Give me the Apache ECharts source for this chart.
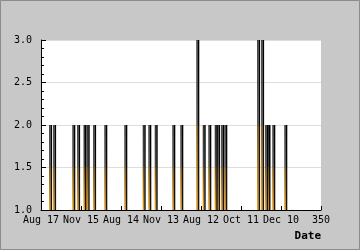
<!DOCTYPE html>
<html><head><meta charset="utf-8">
<script src="https://cdn.jsdelivr.net/npm/echarts@6/dist/echarts.min.js"></script>
<style>html,body{margin:0;padding:0;background:#c8c8c8}#c{width:360px;height:250px}</style>
</head><body><div id="c"></div>
<script>
// day index of each visit day with more than one visit
var dayIndex = [12,17,41,47,55,59,67,81,106,129,136,144,166,176,196,204,211,219,222,227,231,272,277,282,285,291,306];
var visits   = [2,2,2,2,2,2,2,2,2,2,2,2,2,2,3,2,2,2,2,2,2,3,3,2,2,2,2];
var xTickLabels = ['Aug 17','Nov 15','Aug 14','Nov 13','Aug 12','Oct 11','Dec 10','350'];
var yMin = 1, yMax = 3;

var data = dayIndex.map(function(d,i){return [d, visits[i]];});
var font = '"DejaVu Sans Mono", monospace';
var chart = echarts.init(document.getElementById('c'), null, {renderer:'canvas'});
chart.setOption({
  animation:false,
  backgroundColor:'#c8c8c8',
  grid:{left:41,top:40,right:39,bottom:40,outerBoundsMode:'none',containLabel:false,show:true,backgroundColor:'#ffffff',borderWidth:0},
  graphic:[{type:'rect',shape:{x:0.5,y:0.5,width:359,height:249},style:{fill:'none',stroke:'#8c8c8c',lineWidth:1},silent:true}],
  xAxis:{type:'value',min:0,max:350,interval:50,
    name:'Date',nameLocation:'end',nameGap:0,
    nameTextStyle:{fontFamily:font,fontWeight:'bold',fontSize:11,color:'#000',align:'right',verticalAlign:'top',padding:[21,0,0,0]},
    axisLine:{show:true,onZero:false,lineStyle:{color:'#000',width:1}},
    axisTick:{show:true,inside:true,length:4,lineStyle:{color:'#000'}},
    splitLine:{show:false},
    axisLabel:{fontFamily:font,fontSize:10,color:'#000',margin:5,
      formatter:function(v){return xTickLabels[Math.round(v/50)]||'';}}
  },
  yAxis:{type:'value',min:yMin,max:yMax,interval:0.5,
    name:'Vists',nameLocation:'middle',nameGap:36,nameRotate:90,
    nameTextStyle:{fontFamily:font,fontWeight:'bold',fontSize:11,color:'#000'},
    axisLine:{show:true,lineStyle:{color:'#000',width:1}},
    axisTick:{show:true,inside:true,length:5,lineStyle:{color:'#000'}},
    minorTick:{show:true,splitNumber:5,length:3,lineStyle:{color:'#000'}},
    splitLine:{show:true,lineStyle:{color:'#dddddd',width:1}},
    axisLabel:{fontFamily:font,fontSize:10,color:'#000',margin:9,
      formatter:function(v){return v.toFixed(1);}}
  },
  series:[
    {type:'bar',data:data,barWidth:1.5,barGap:0,
      itemStyle:{color:new echarts.graphic.LinearGradient(0,0,0,1,[
        {offset:0,color:'#333333'},{offset:0.5,color:'#4a4a4a'},
        {offset:0.5,color:'#7a5008'},{offset:1,color:'#e89a10'}])}},
    {type:'bar',data:data,barWidth:1.5,barGap:0,
      itemStyle:{color:new echarts.graphic.LinearGradient(0,0,0,1,[
        {offset:0,color:'#000000'},{offset:0.5,color:'#050505'},
        {offset:0.5,color:'#140e04'},{offset:1,color:'#201404'}])}}
  ]
});
</script></body></html>
